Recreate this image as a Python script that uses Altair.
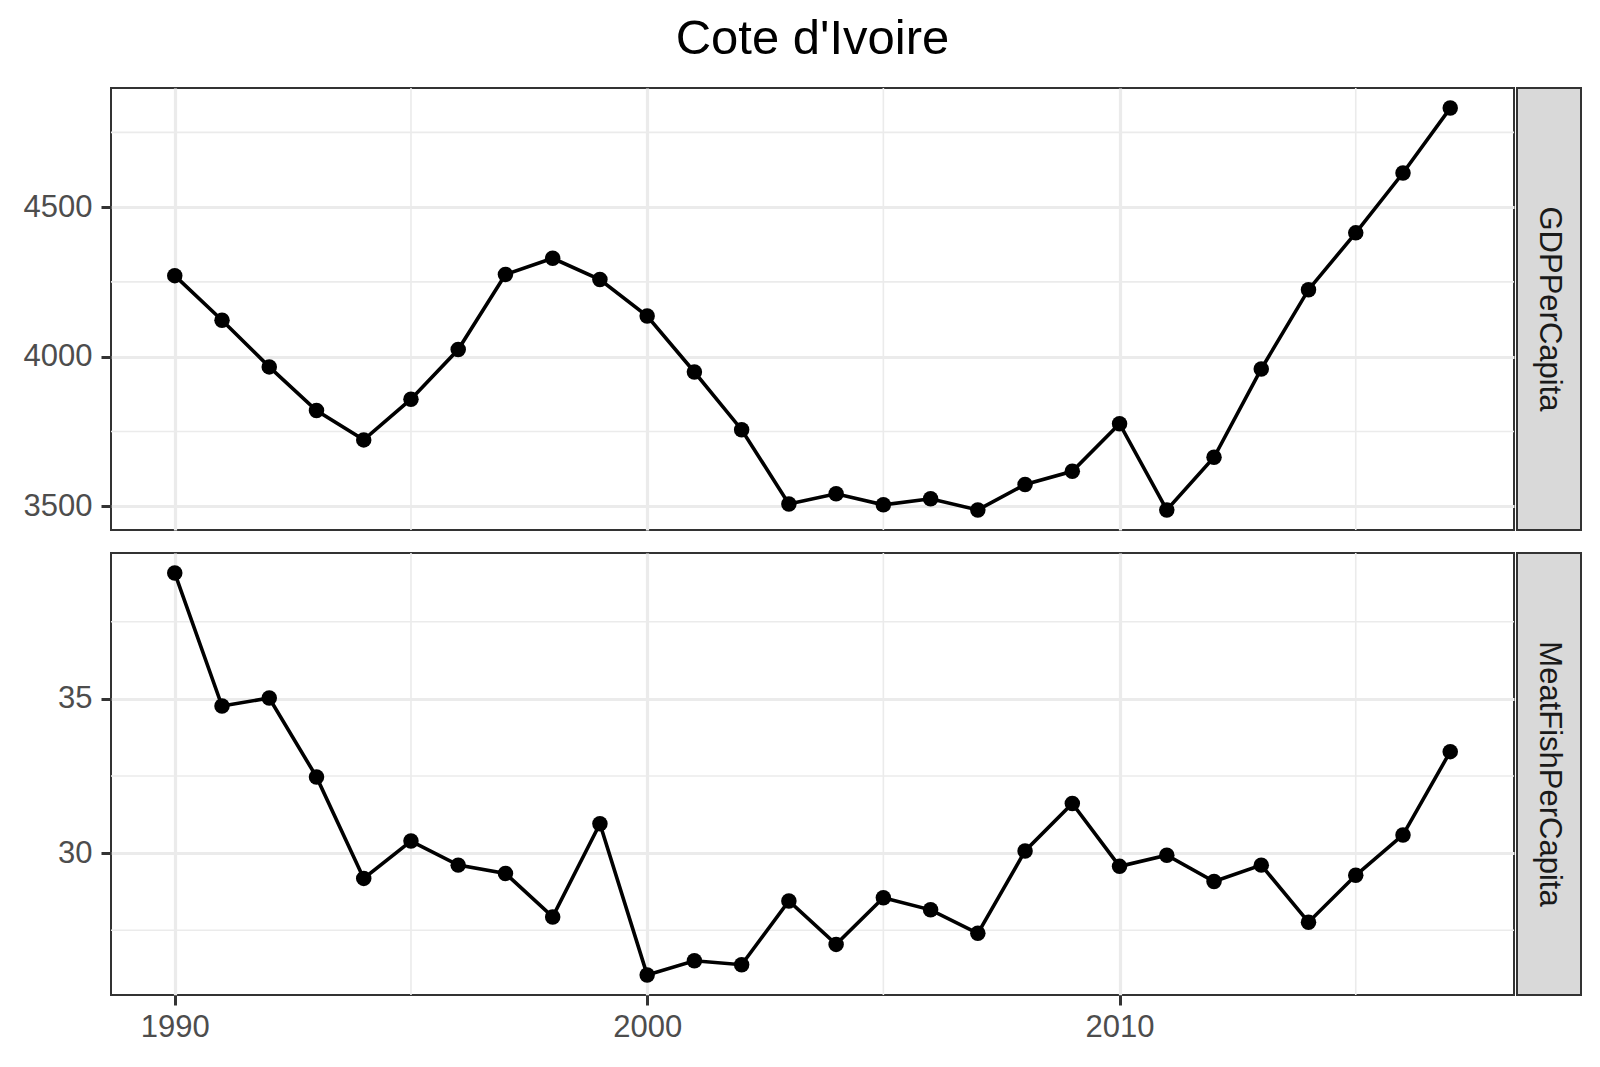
import altair as alt
import pandas as pd

# ---------------- data ----------------
years = list(range(1990, 2018))
gdp_per_capita = [4271, 4122, 3966, 3820, 3722, 3858, 4024, 4275, 4329, 4258,
                  4136, 3949, 3756, 3508, 3542, 3505, 3525, 3488, 3573, 3617,
                  3776, 3488, 3664, 3959, 4224, 4414, 4614, 4831]
meat_fish_per_capita = [39.08, 34.77, 35.03, 32.47, 29.18, 30.39, 29.61, 29.34,
                        27.93, 30.95, 26.05, 26.51, 26.38, 28.45, 27.04, 28.55,
                        28.16, 27.40, 30.07, 31.61, 29.57, 29.93, 29.08, 29.61,
                        27.76, 29.28, 30.59, 33.29]
panel_names = ["GDPPerCapita", "MeatFishPerCapita"]
title_text = "Cote d'Ivoire"

x_major = [1990, 2000, 2010]
x_minor = [1995, 2005, 2015]
gdp_major = [3500, 4000, 4500]
gdp_minor = [3750, 4250, 4750]
meat_major = [30, 35]
meat_minor = [27.5, 32.5, 37.5]

# ---------------- layout / style ----------------
PANEL_W = 1403
PANEL_H = 442
STRIP_W = 64
FONT = "Liberation Sans"
TICK_FS = 31
GRID = "#EBEBEB"
MAJOR_W = 3.2
MINOR_W = 1.6


def expand(vals, mult=0.05):
    lo, hi = min(vals), max(vals)
    pad = (hi - lo) * mult
    return [lo - pad, hi + pad]


x_scale = alt.Scale(domain=expand(years), nice=False, zero=False)


def x_axis(show):
    return alt.Axis(values=x_major, format="d", grid=True, labels=show,
                    ticks=show, domain=False, title=None, labelPadding=7,
                    labelFlush=False, labelOverlap=False)


def panel(values, major, minor, show_x, title=None):
    df = pd.DataFrame({"year": years, "value": values})
    y_scale = alt.Scale(domain=expand(values), nice=False, zero=False)
    y_axis = alt.Axis(values=major, format="d", grid=True, domain=False,
                      title=None, labelPadding=9, labelFlush=False,
                      labelOverlap=False)
    xa = x_axis(show_x)

    minor_x = alt.Chart(pd.DataFrame({"year": x_minor})).mark_rule(
        color=GRID, strokeWidth=MINOR_W
    ).encode(x=alt.X("year:Q", scale=x_scale, axis=xa))

    minor_y = alt.Chart(pd.DataFrame({"value": minor})).mark_rule(
        color=GRID, strokeWidth=MINOR_W
    ).encode(y=alt.Y("value:Q", scale=y_scale, axis=y_axis))

    base = alt.Chart(df).encode(
        x=alt.X("year:Q", scale=x_scale, axis=xa),
        y=alt.Y("value:Q", scale=y_scale, axis=y_axis),
    )
    line = base.mark_line(color="black", strokeWidth=3.6)
    pts = base.mark_point(filled=True, size=240, color="black", opacity=1)

    layer = alt.layer(minor_x, minor_y, line, pts).properties(
        width=PANEL_W, height=PANEL_H
    )
    if title is not None:
        layer = layer.properties(
            title=alt.TitleParams(title, fontSize=49, font=FONT, color="black",
                                  fontWeight="normal", anchor="middle",
                                  offset=23)
        )
    return layer


def strip(name):
    return alt.Chart(pd.DataFrame({"label": [name]})).mark_text(
        angle=90, fontSize=TICK_FS, font=FONT, color="#1A1A1A",
        align="center", baseline="middle"
    ).encode(
        text="label:N",
        x=alt.value(STRIP_W / 2),
        y=alt.value(PANEL_H / 2),
    ).properties(
        width=STRIP_W, height=PANEL_H,
        view=alt.ViewBackground(fill="#D9D9D9", stroke="#333333", strokeWidth=2),
    )


top = panel(gdp_per_capita, gdp_major, gdp_minor, show_x=False, title=title_text)
bottom = panel(meat_fish_per_capita, meat_major, meat_minor, show_x=True)

chart = alt.concat(
    top, strip(panel_names[0]),
    bottom, strip(panel_names[1]),
    columns=2,
    spacing={"row": 19, "column": 0},
    align="each",
).properties(
    padding={"left": 14, "top": 6, "right": 5, "bottom": 5},
    background="white",
).configure_view(
    stroke="#333333", strokeWidth=2, fill="white"
).configure_axis(
    gridColor=GRID, gridWidth=MAJOR_W,
    tickColor="#333333", tickWidth=3, tickSize=10,
    labelFont=FONT, labelFontSize=TICK_FS, labelColor="#4D4D4D",
)

chart.save("out.html", embed_options={"renderer": "svg", "actions": False})
